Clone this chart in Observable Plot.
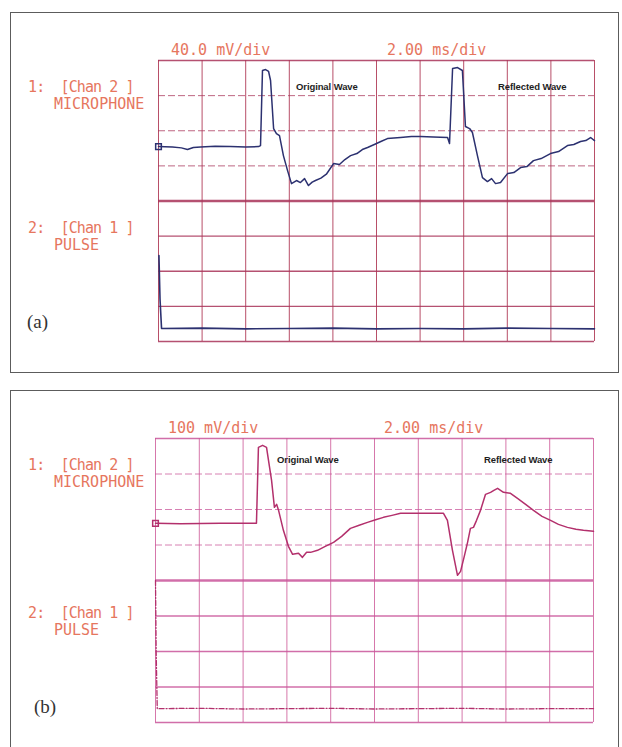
<!DOCTYPE html>
<html><head><meta charset="utf-8">
<script src="https://cdn.jsdelivr.net/npm/d3@7"></script>
<script src="https://cdn.jsdelivr.net/npm/@observablehq/plot@0.6"></script>
<style>
html,body{margin:0;padding:0;background:#fff;}
body{width:622px;height:747px;overflow:hidden;position:relative;}
.box{position:absolute;border:1.5px solid #5c5c5c;box-sizing:border-box;}
.plot{position:absolute;left:0;}
.lbl{position:absolute;font-family:"DejaVu Sans Mono",monospace;font-size:15px;line-height:16px;color:#e6765e;white-space:pre;}
.lbl.tight{letter-spacing:-0.9px;}
.wave{position:absolute;font-family:"Liberation Sans",Arial,sans-serif;font-weight:bold;font-size:9.5px;line-height:10px;color:#1e1e1e;white-space:pre;letter-spacing:-0.1px;}
.tag{position:absolute;font-family:"Liberation Serif","Times New Roman",serif;font-size:19px;line-height:20px;color:#333;}
</style></head>
<body>
<script>
// ---------- data ----------
const gridTimes = [0, 2, 4, 6, 8, 10, 12, 14, 16, 18, 20];   // ms (2.00 ms/div)
const gridDivs  = [0, 1, 2, 3, 4, 5, 6, 7, 8];                // screen divisions

// Panel (a): microphone, mV (40.0 mV/div), [time ms, mV]
const micA = [
  [0,0],[0.30,-0.3],[0.64,-0.6],[1.05,-1.5],[1.33,-3.4],[1.60,-1.0],[1.93,-0.6],[2.60,0.3],[3.30,0],[4.00,-0.4],[4.59,0],[4.68,1.1],
  [4.77,86.6],[4.91,87.7],[5.05,85.5],[5.14,75.2],[5.28,20.5],[5.41,14.8],[5.55,12.5],
  [5.73,-10.3],[5.92,-27.4],[6.10,-42.2],[6.33,-38.7],[6.51,-41.0],[6.70,-36.5],[6.88,-44.4],
  [7.05,-40.5],[7.20,-38.7],[7.45,-36.0],[7.70,-31.5],[8.03,-19.4],[8.30,-20.5],[8.55,-14.8],[8.81,-10.3],
  [9.10,-8.0],[9.35,-3.4],[9.59,-1.1],[9.90,2.3],[10.20,5.7],[10.50,9.1],[11.10,10.3],[11.60,11.4],[12.02,11.4],
  [12.60,10.8],[13.26,10.3],[13.35,3.4],[13.49,88.9],[13.72,90.0],[13.94,86.6],[14.08,22.8],[14.27,20.5],
  [14.40,16.0],[14.63,-10.3],[14.86,-35.3],[15.09,-39.9],[15.28,-36.5],[15.46,-42.2],[15.69,-41.0],
  [16.01,-30.8],[16.30,-29.6],[16.61,-23.9],[16.90,-22.8],[17.20,-16.0],[17.55,-13.7],[17.98,-8.0],
  [18.35,-5.7],[18.76,1.1],[19.05,2.3],[19.36,5.7],[19.60,6.8],[19.82,10.3],[20.0,6.8]
];
// Panel (a): pulse, in divisions above the bottom of the screen
const pulseA = [
  [0.02,2.45],[0.07,1.2],[0.14,0.37],[2,0.38],[4,0.36],[6,0.37],[8,0.38],[10,0.36],
  [12,0.37],[14,0.36],[16,0.38],[18,0.37],[20,0.36]
];
// Panel (b): microphone, mV (100 mV/div)
const micB = [
  [0,0],[1.14,-1.4],[2.97,0],[4.61,0],[4.70,214.1],[4.89,219.7],[5.07,214.1],[5.16,177.5],
  [5.30,121.1],[5.43,45.1],[5.53,53.5],[5.62,36.6],[5.84,-19.7],[6.07,-64.8],[6.26,-87.3],
  [6.53,-84.5],[6.71,-95.8],[6.90,-81.7],[7.08,-81.7],[7.40,-76.0],[7.75,-64.8],[8.13,-53.5],[8.50,-36.6],[8.90,-14.1],
  [9.30,-5.6],[9.68,2.8],[10.05,9.9],[10.41,16.9],[10.80,22.5],[11.19,28.2],[12.10,28.2],[13.15,28.2],[13.33,8.5],[13.56,-76.1],[13.79,-146.5],
  [13.93,-135.2],[14.11,-90.1],[14.25,-53.5],[14.38,-14.1],[14.52,-11.3],[14.66,8.5],[14.84,36.6],
  [15.07,81.7],[15.30,87.3],[15.45,92.9],[15.62,98.6],[15.89,87.3],[16.21,84.5],[16.53,70.4],[16.90,53.5],[17.26,36.6],
  [17.65,19.7],[18.04,8.5],[18.40,-2.8],[18.81,-11.3],[19.20,-16.9],[19.54,-19.7],[20.0,-22.5]
];
// Panel (b): pulse, divisions
const pulseB = [
  [0.0,4.0],[0.03,2.0],[0.08,0.39],[2,0.40],[4,0.38],[6,0.39],[8,0.40],[10,0.38],
  [12,0.39],[14,0.40],[16,0.38],[18,0.39],[20,0.39]
];

// scope settings per panel
const settingsA = {mVperDiv: 40, ch1Zero: 5.55, scaleText: "40.0 mV/div", timeText: "2.00 ms/div", tag: "(a)"};
const settingsB = {mVperDiv: 100, ch1Zero: 5.61, scaleText: "100 mV/div", timeText: "2.00 ms/div", tag: "(b)"};
const ch1Label = ["1:  [Chan 2 ]", "MICROPHONE"];
const ch2Label = ["2:  [Chan 1 ]", "PULSE"];
const waveLabels = ["Original Wave", "Reflected Wave"];

// ---------- drawing ----------
function add(cls, text, left, top, extra) {
  const d = document.createElement("div");
  d.className = cls; d.textContent = text;
  d.style.left = left + "px"; d.style.top = top + "px";
  if (extra) Object.assign(d.style, extra);
  document.body.appendChild(d);
  return d;
}

function drawPanel(o) {
  const s = o.settings;
  const box = document.createElement("div");
  box.className = "box";
  Object.assign(box.style, {left: o.box[0] + "px", top: o.box[1] + "px", width: o.box[2] + "px", height: o.box[3] + "px"});
  document.body.appendChild(box);

  const toDiv = d => s.ch1Zero + d[1] / s.mVperDiv;
  const chart = Plot.plot({
    width: 622, height: o.svgH,
    marginLeft: o.grid[0], marginRight: 622 - o.grid[1],
    marginTop: o.grid[2] - o.svgTop, marginBottom: o.svgTop + o.svgH - o.grid[3],
    x: {domain: [0, 20], axis: null},
    y: {domain: [0, 8], axis: null},
    style: {background: "transparent", overflow: "visible"},
    marks: [
      Plot.ruleX(gridTimes, {x: d => d, stroke: o.gridColor, strokeWidth: 1, strokeOpacity: 0.9}),
      Plot.ruleY(gridDivs.filter(v => v > 4 && v < 8), {y: d => d, stroke: o.gridColor2, strokeWidth: 1, strokeOpacity: 0.75, strokeDasharray: "7,3"}),
      Plot.ruleY(gridDivs.filter(v => v < 4 || v === 8), {y: d => d, stroke: o.gridColor2, strokeWidth: 1.4, strokeOpacity: 0.85}),
      Plot.ruleY([4], {y: d => d, stroke: o.gridColor2, strokeWidth: 2.6, strokeOpacity: 0.85}),
      Plot.line(o.pulse, {x: d => d[0], y: d => d[1], stroke: o.trace, strokeWidth: o.pulseW, strokeDasharray: o.pulseDash}),
      Plot.line(o.mic, {x: d => d[0], y: toDiv, stroke: o.trace, strokeWidth: 1.5, strokeLinejoin: "round"}),
      Plot.dot(o.mic.slice(0, 1), {x: d => d[0], y: toDiv, symbol: "square", r: 3.2, stroke: o.trace, strokeWidth: 1.5, fill: "none"})
    ]
  });
  chart.classList.add("plot");
  chart.style.top = o.svgTop + "px";
  document.body.appendChild(chart);

  add("lbl", s.scaleText, o.grid[0] + 13, o.grid[2] - 18);
  add("lbl", s.timeText, o.grid[0] + 229, o.grid[2] - 18);
  add("lbl tight", ch1Label[0], 28, o.grid[2] + 19);
  add("lbl", ch1Label[1], 54, o.grid[2] + 36);
  add("lbl tight", ch2Label[0], 28, o.sep + o.ch2dy);
  add("lbl", ch2Label[1], 54, o.sep + o.ch2dy + 17);
  add("wave", waveLabels[0], o.waveX[0], o.waveY - 5);
  add("wave", waveLabels[1], o.waveX[1], o.waveY - 5);
  add("tag", s.tag, o.tagPos[0], o.tagPos[1] - 10);
}

drawPanel({
  settings: settingsA, box: [10, 12, 609, 361],
  svgTop: 0, svgH: 380, grid: [158, 594, 60, 341], sep: 202, ch2dy: 18,
  mic: micA, pulse: pulseA, trace: "#2c3170", pulseW: 1.6, pulseDash: null,
  gridColor: "#b03c58", gridColor2: "#a83358",
  waveX: [296, 498], waveY: 87, tagPos: [27, 322]
});
drawPanel({
  settings: settingsB, box: [10, 390, 609, 380],
  svgTop: 380, svgH: 367, grid: [155, 593, 438, 722], sep: 578, ch2dy: 27,
  mic: micB, pulse: pulseB, trace: "#b3306c", pulseW: 1.3, pulseDash: "5,2,1,2",
  gridColor: "#d268a2", gridColor2: "#c9559a",
  waveX: [277, 484], waveY: 460, tagPos: [34, 707]
});
</script>
</body></html>
